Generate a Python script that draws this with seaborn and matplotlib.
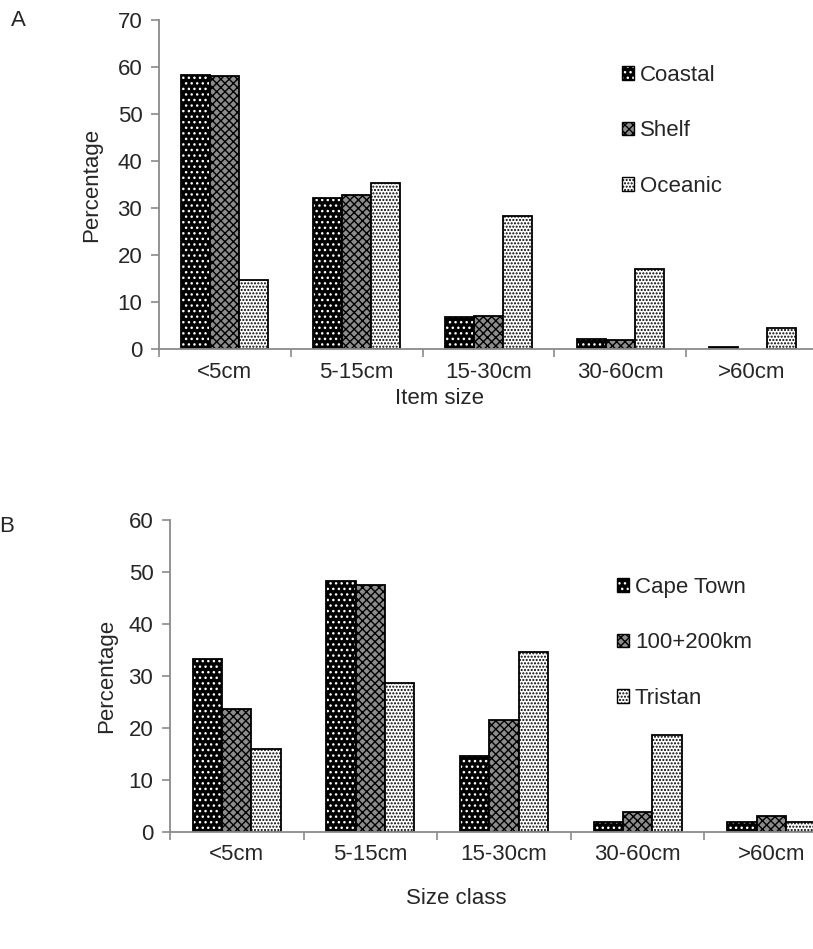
import numpy as np
import pandas as pd
import matplotlib
matplotlib.use("Agg")
import matplotlib.pyplot as plt
import matplotlib.patches as mpatches
import seaborn as sns
from matplotlib import font_manager

# ---------------- data ----------------
size_classes = ["<5cm", "5-15cm", "15-30cm", "30-60cm", ">60cm"]

a_groups = ["Coastal", "Shelf", "Oceanic"]
a_coastal = [58.2, 32.2, 6.9, 2.1, 0.5]
a_shelf = [58.1, 32.8, 7.0, 1.9, 0.0]
a_oceanic = [14.7, 35.3, 28.3, 17.0, 4.5]

b_groups = ["Cape Town", "100+200km", "Tristan"]
b_cape = [33.2, 48.3, 14.6, 1.9, 1.9]
b_near = [23.6, 47.5, 21.6, 3.9, 3.0]
b_tristan = [15.9, 28.6, 34.6, 18.6, 1.9]

a_yticks = [0, 10, 20, 30, 40, 50, 60, 70]
b_yticks = [0, 10, 20, 30, 40, 50, 60]

# ---------------- style ----------------
sns.set_theme(style="white")
avail = {f.name for f in font_manager.fontManager.ttflist}
fam = "Liberation Sans Narrow" if "Liberation Sans Narrow" in avail else "Liberation Sans"
plt.rcParams["font.family"] = [fam, "DejaVu Sans"]
FS = 18 if fam == "Liberation Sans Narrow" else 16
plt.rcParams["hatch.linewidth"] = 1.0

faces = ["#000000", "#8c8c8c", "#ffffff"]
hatches = ["...", "xxxx", "....."]
hatch_cols = [(1, 1, 1, 1), (0, 0, 0, 1), (0, 0, 0, 1)]
SPINE = "#8a8a8a"

W, H = 813, 949
fig = plt.figure(figsize=(W / 100, H / 100), dpi=100)


def fx(px):
    return px / W


def fy(py):
    return 1 - py / H


def panel(rect, groups, series, yticks, ymax, xlabel, xlabel_xy, ylabel_xy,
          leg_xy, letter, letter_xy):
    ax = fig.add_axes(rect)
    rows = []
    for g, vals in zip(groups, series):
        for c, v in zip(size_classes, vals):
            rows.append({"size": c, "pct": v, "group": g})
    df = pd.DataFrame(rows)
    sns.barplot(data=df, x="size", y="pct", hue="group", order=size_classes,
                hue_order=groups, palette=faces, saturation=1,
                edgecolor="black", linewidth=1.3, width=0.66, gap=0,
                legend=False, ax=ax, errorbar=None)
    for cont, h, hc in zip(ax.containers, hatches, hatch_cols):
        for bar in cont:
            bar.set_hatch(h)
            bar._hatch_color = hc
            if bar.get_height() == 0:
                bar.set_visible(False)

    ax.set_xlim(-0.5, 4.5)
    ax.set_ylim(0, ymax)
    ax.set_yticks(yticks)
    ax.set_yticklabels([str(t) for t in yticks], fontsize=FS)
    ax.set_xticks(np.arange(-0.5, 5.0, 1.0))
    ax.set_xticklabels([])
    ax.set_xticks(np.arange(5), minor=True)
    ax.set_xticklabels(size_classes, minor=True, fontsize=FS)
    ax.tick_params(axis="x", which="major", length=6, width=1.2, color=SPINE,
                   direction="out", bottom=True)
    ax.tick_params(axis="x", which="minor", length=0, pad=9)
    ax.tick_params(axis="y", length=6, width=1.2, color=SPINE, direction="out",
                   left=True, pad=6)
    for s in ["top", "right"]:
        ax.spines[s].set_visible(False)
    for s in ["left", "bottom"]:
        ax.spines[s].set_color(SPINE)
        ax.spines[s].set_linewidth(1.3)
    ax.set_xlabel("")
    ax.set_ylabel("")
    ax.grid(False)

    fig.text(fx(xlabel_xy[0]), fy(xlabel_xy[1]), xlabel, fontsize=FS,
             ha="center", va="center")
    fig.text(fx(ylabel_xy[0]), fy(ylabel_xy[1]), "Percentage", fontsize=FS,
             ha="center", va="center", rotation=90)
    fig.text(fx(letter_xy[0]), fy(letter_xy[1]), letter, fontsize=FS,
             ha="center", va="center")

    handles = []
    for g, f, h, hc in zip(groups, faces, hatches, hatch_cols):
        p = mpatches.Patch(facecolor=f, edgecolor="black", hatch=h,
                           linewidth=1.0, label=g)
        p._hatch_color = hc
        handles.append(p)
    fig.legend(handles=handles, loc="upper left",
               bbox_to_anchor=(fx(leg_xy[0]), fy(leg_xy[1])),
               frameon=False, fontsize=FS, handlelength=0.55,
               handleheight=0.55, handletextpad=0.25, labelspacing=1.55,
               borderpad=0, borderaxespad=0)
    return ax


panel([fx(159), fy(349), (818 - 159) / W, (349 - 20) / H],
      a_groups, [a_coastal, a_shelf, a_oceanic], a_yticks, 70,
      "Item size", (439, 399), (92, 185), (622, 65), "A", (18, 20))

panel([fx(170), fy(832), (838 - 170) / W, (832 - 520) / H],
      b_groups, [b_cape, b_near, b_tristan], b_yticks, 60,
      "Size class", (456, 899), (107, 676), (617, 577), "B", (7, 527))

fig.savefig("out.png", dpi=100)
